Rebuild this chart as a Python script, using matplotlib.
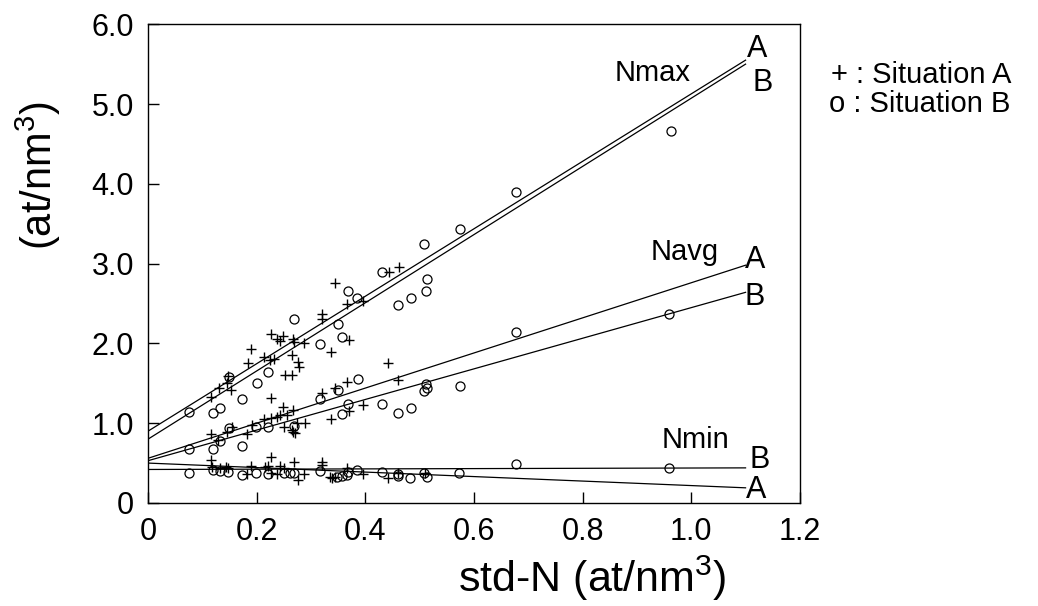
import matplotlib
matplotlib.use('Agg')
import matplotlib.pyplot as plt

plt.rcParams['font.family'] = ['Liberation Sans', 'DejaVu Sans']
plt.rcParams['mathtext.fontset'] = 'custom'
plt.rcParams['mathtext.rm'] = 'Liberation Sans'

# scatter data
nmax_a_x = [0.32, 0.32, 0.226, 0.237, 0.243, 0.249, 0.267, 0.269, 0.287, 0.337, 0.19, 0.214, 0.225, 0.232,
            0.184, 0.265, 0.276, 0.278, 0.252, 0.265, 0.147, 0.145, 0.153, 0.131, 0.116, 0.226, 0.444, 0.462,
            0.344, 0.396, 0.366, 0.37]
nmax_a_y = [2.37, 2.30, 2.12, 2.05, 2.03, 2.09, 2.05, 2.02, 2.00, 1.89, 1.93, 1.83, 1.79, 1.80,
            1.75, 1.85, 1.77, 1.70, 1.60, 1.60, 1.59, 1.50, 1.42, 1.44, 1.33, 1.32, 2.89, 2.96,
            2.76, 2.53, 2.50, 2.04]
nmax_b_x = [0.269, 0.317, 0.221, 0.2, 0.149, 0.173, 0.075, 0.12, 0.133, 0.677, 0.574, 0.508, 0.431, 0.513,
            0.512, 0.484, 0.46, 0.368, 0.385, 0.35, 0.357, 0.962]
nmax_b_y = [2.30, 1.99, 1.64, 1.50, 1.58, 1.30, 1.14, 1.13, 1.19, 3.90, 3.43, 3.24, 2.89, 2.81,
            2.66, 2.57, 2.48, 2.66, 2.57, 2.24, 2.08, 4.66]

navg_a_x = [0.32, 0.344, 0.249, 0.267, 0.226, 0.237, 0.243, 0.256, 0.191, 0.214, 0.25, 0.274, 0.289, 0.267,
            0.265, 0.27, 0.145, 0.154, 0.182, 0.116, 0.129, 0.442, 0.46, 0.366, 0.396, 0.37, 0.337]
navg_a_y = [1.38, 1.44, 1.20, 1.16, 1.06, 1.08, 1.10, 1.10, 0.98, 1.05, 0.95, 1.00, 1.00, 0.89,
            0.91, 0.88, 0.89, 0.95, 0.86, 0.86, 0.79, 1.75, 1.54, 1.52, 1.23, 1.15, 1.05]
navg_b_x = [0.317, 0.199, 0.221, 0.269, 0.149, 0.133, 0.12, 0.075, 0.173, 0.677, 0.386, 0.35, 0.512, 0.508,
            0.513, 0.574, 0.368, 0.431, 0.357, 0.46, 0.484, 0.959]
navg_b_y = [1.30, 0.95, 0.95, 0.96, 0.94, 0.78, 0.68, 0.68, 0.71, 2.14, 1.55, 1.42, 1.49, 1.40,
            1.44, 1.47, 1.24, 1.24, 1.11, 1.13, 1.19, 2.37]

nmin_a_x = [0.116, 0.226, 0.269, 0.32, 0.118, 0.133, 0.144, 0.147, 0.182, 0.19, 0.215, 0.221, 0.243, 0.25,
            0.226, 0.237, 0.276, 0.287, 0.335, 0.344, 0.32, 0.366, 0.396, 0.338, 0.442, 0.46, 0.51]
nmin_a_y = [0.54, 0.58, 0.51, 0.51, 0.45, 0.44, 0.45, 0.44, 0.36, 0.46, 0.45, 0.46, 0.46, 0.44,
            0.38, 0.36, 0.29, 0.36, 0.32, 0.32, 0.48, 0.44, 0.36, 0.31, 0.31, 0.37, 0.38]
nmin_b_x = [0.075, 0.12, 0.133, 0.147, 0.173, 0.199, 0.221, 0.25, 0.261, 0.269, 0.317, 0.677, 0.368, 0.385,
            0.431, 0.348, 0.357, 0.366, 0.46, 0.46, 0.482, 0.508, 0.513, 0.572, 0.959]
nmin_b_y = [0.37, 0.41, 0.40, 0.39, 0.35, 0.38, 0.36, 0.38, 0.38, 0.38, 0.40, 0.49, 0.39, 0.41,
            0.39, 0.33, 0.34, 0.35, 0.36, 0.34, 0.31, 0.38, 0.33, 0.38, 0.44]

# fitted lines (end points)
fit_x = [0, 1.1]
fit_nmax_a = [0.90, 5.55]
fit_nmax_b = [0.80, 5.50]
fit_navg_a = [0.56, 2.98]
fit_navg_b = [0.53, 2.64]
fit_nmin_a = [0.50, 0.19]
fit_nmin_b = [0.42, 0.44]

xticks = [0, 0.2, 0.4, 0.6, 0.8, 1.0, 1.2]
xticklabels = ['0', '0.2', '0.4', '0.6', '0.8', '1.0', '1.2']
yticks = [0, 1, 2, 3, 4, 5, 6]
yticklabels = ['0', '1.0', '2.0', '3.0', '4.0', '5.0', '6.0']

fig = plt.figure(figsize=(10.38, 6.06), dpi=100)
ax = fig.add_axes([0.1426, 0.17, 0.628, 0.79])

for fx, fy in [(fit_x, fit_nmax_a), (fit_x, fit_nmax_b), (fit_x, fit_navg_a),
               (fit_x, fit_navg_b), (fit_x, fit_nmin_a), (fit_x, fit_nmin_b)]:
    ax.plot(fx, fy, color='black', lw=0.9)

for xs, ys in [(nmax_a_x, nmax_a_y), (navg_a_x, navg_a_y), (nmin_a_x, nmin_a_y)]:
    ax.plot(xs, ys, ls='none', marker='+', ms=7, mew=1.0, color='black')
for xs, ys in [(nmax_b_x, nmax_b_y), (navg_b_x, navg_b_y), (nmin_b_x, nmin_b_y)]:
    ax.plot(xs, ys, ls='none', marker='o', ms=6.5, mew=0.9, mfc='none', mec='black')

# curve labels
ax.text(0.928, 5.39, 'Nmax', fontsize=21, ha='center', va='center')
ax.text(0.988, 3.14, 'Navg', fontsize=21, ha='center', va='center')
ax.text(1.007, 0.79, 'Nmin', fontsize=21, ha='center', va='center')
for x, y, s in [(1.121, 5.69, 'A'), (1.132, 5.26, 'B'), (1.117, 3.04, 'A'), (1.117, 2.58, 'B'),
                (1.125, 0.54, 'B'), (1.12, 0.16, 'A')]:
    ax.text(x, y, s, fontsize=22, ha='center', va='center')

ax.set_xlim(0, 1.2)
ax.set_ylim(0, 6)
ax.set_xticks(xticks)
ax.set_xticklabels(xticklabels)
ax.set_yticks(yticks)
ax.set_yticklabels(yticklabels)
ax.tick_params(direction='in', length=8, width=1, labelsize=22, pad=10)
for sp in ax.spines.values():
    sp.set_linewidth(1)

fig.text(592 / 1038, 1 - 578 / 606, 'std-N (at/nm$^3$)', fontsize=31, ha='center', va='center')
fig.text(38 / 1038, 1 - 176 / 606, '(at/nm$^3$)', fontsize=30, ha='center', va='center', rotation=90)

fig.text(831 / 1038, 1 - 75 / 606, '+ : Situation A', fontsize=21, ha='left', va='center')
fig.text(829 / 1038, 1 - 104 / 606, 'o : Situation B', fontsize=21, ha='left', va='center')

fig.savefig('out.png', dpi=100)
